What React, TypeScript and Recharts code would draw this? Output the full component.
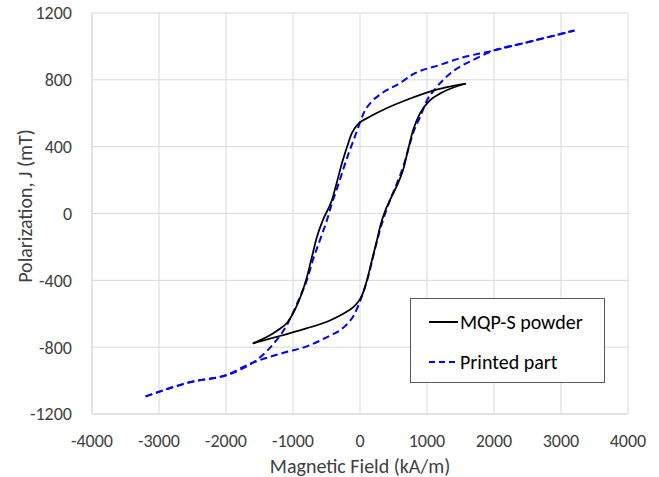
import { LineChart, Line, XAxis, YAxis, CartesianGrid } from "recharts";

// MQP-S powder loop (H in kA/m, J in mT), each branch ordered by increasing H
const powderUpperH = [-1600, -1300, -1196, -1091, -972, -867, -792, -718, -643, -553, -419, -344, -269, -194, -120, -40, 0, 150, 404, 750, 1100, 1580];
const powderUpperJ = [-778, -718, -690, -655, -577, -476, -380, -260, -141, -39, 81, 189, 302, 398, 482, 530, 545, 580, 631, 688, 737, 778];
const powderLowerH = [-1600, -1200, -800, -450, -250, -100, -30, 30, 105, 179, 254, 299, 380, 449, 568, 650, 710, 793, 897, 1047, 1200, 1580];
const powderLowerJ = [-778, -733, -688, -640, -600, -560, -530, -490, -398, -278, -159, -81, 20, 81, 182, 270, 370, 500, 601, 679, 719, 778];

// Printed part loop
const printedUpperH = [-3200, -2542, -1899, -1495, -1250, -1091, -1002, -897, -792, -703, -598, -493, -420, -330, -250, -165, -95, -40, 0, 60, 179, 299, 598, 800, 1200, 1540, 1900, 2500, 3200];
const printedUpperJ = [-1095, -1010, -955, -862, -760, -667, -595, -500, -398, -278, -159, -39, 60, 165, 265, 365, 440, 500, 545, 605, 672, 712, 781, 835, 890, 935, 967, 1025, 1095];
const printedLowerH = [-3200, -2542, -1988, -1645, -1151, -792, -404, -299, -194, -100, -45, 45, 120, 194, 269, 344, 449, 553, 643, 718, 793, 897, 1002, 1121, 1375, 1689, 1944, 2500, 3200];
const printedLowerJ = [-1095, -1010, -965, -900, -835, -795, -722, -700, -662, -615, -570, -476, -380, -260, -141, -39, 81, 182, 278, 380, 482, 578, 679, 745, 847, 919, 967, 1025, 1095];

const xTicks = [-4000, -3000, -2000, -1000, 0, 1000, 2000, 3000, 4000];
const yTicks = [-1200, -800, -400, 0, 400, 800, 1200];

const legendItems = [
  { name: "MQP-S powder", color: "#000000", dash: "" },
  { name: "Printed part", color: "#0000ff", dash: "6 4" },
];

const toPoints = (h: number[], j: number[]) => h.map((x, i) => ({ x, y: j[i] }));

const font = "Carlito, Calibri, Lato, sans-serif";
const textColor = "#404040";

function LegendBox() {
  return (
    <div
      style={{
        position: "absolute",
        left: 410,
        top: 298,
        width: 195,
        height: 85,
        border: "1px solid #595959",
        background: "#fff",
        boxSizing: "border-box",
        fontFamily: font,
        fontSize: 20,
        color: "#000",
      }}
    >
      {legendItems.map((it, i) => (
        <div key={it.name} style={{ position: "absolute", left: 17, top: 8 + i * 40, height: 30, display: "flex", alignItems: "center" }}>
          <svg width={31} height={10}>
            <line x1={1} y1={5} x2={30} y2={5} stroke={it.color} strokeWidth={2} strokeDasharray={it.dash} />
          </svg>
          <span style={{ marginLeft: 1 }}>{it.name}</span>
        </div>
      ))}
    </div>
  );
}

const YLabel = () => (
  <text
    x={25}
    y={206}
    transform="rotate(-90 25 206)"
    textAnchor="middle"
    dominantBaseline="central"
    style={{ fontSize: 20, fill: textColor, fontFamily: font }}
  >
    Polarization, J (mT)
  </text>
);

export default function App() {
  const tickStyle = { fontSize: 18, fill: textColor, fontFamily: font };
  return (
    <div style={{ position: "absolute", left: 0, top: 0, width: 659, height: 477, background: "#fff" }}>
      <LineChart width={659} height={477} margin={{ top: 13, right: 31, left: 0, bottom: 0 }}>
        <CartesianGrid stroke="#d9d9d9" />
        <XAxis
          type="number"
          dataKey="x"
          domain={[-4000, 4000]}
          ticks={xTicks}
          allowDataOverflow
          height={63}
          stroke="#d9d9d9"
          tickLine={false}
          tickSize={4}
          tickMargin={16}
          tick={tickStyle}
          label={{ value: "Magnetic Field (kA/m)", position: "insideBottom", offset: 4, style: { fontSize: 20, fill: textColor, fontFamily: font } }}
        />
        <YAxis
          type="number"
          dataKey="y"
          domain={[-1200, 1200]}
          ticks={yTicks}
          allowDataOverflow
          width={92}
          stroke="#d9d9d9"
          tickLine={false}
          tickSize={6}
          tickMargin={14}
          tick={tickStyle}
          label={<YLabel />}
        />
        <Line data={toPoints(printedUpperH, printedUpperJ)} dataKey="y" type="monotone" stroke="#0000ff" strokeWidth={2} strokeDasharray="7 4" dot={false} isAnimationActive={false} />
        <Line data={toPoints(printedLowerH, printedLowerJ)} dataKey="y" type="monotone" stroke="#0000ff" strokeWidth={2} strokeDasharray="7 4" dot={false} isAnimationActive={false} />
        <Line data={toPoints(powderUpperH, powderUpperJ)} dataKey="y" type="monotone" stroke="#000000" strokeWidth={1.75} dot={false} isAnimationActive={false} />
        <Line data={toPoints(powderLowerH, powderLowerJ)} dataKey="y" type="monotone" stroke="#000000" strokeWidth={1.75} dot={false} isAnimationActive={false} />
      </LineChart>
      <LegendBox />
    </div>
  );
}
